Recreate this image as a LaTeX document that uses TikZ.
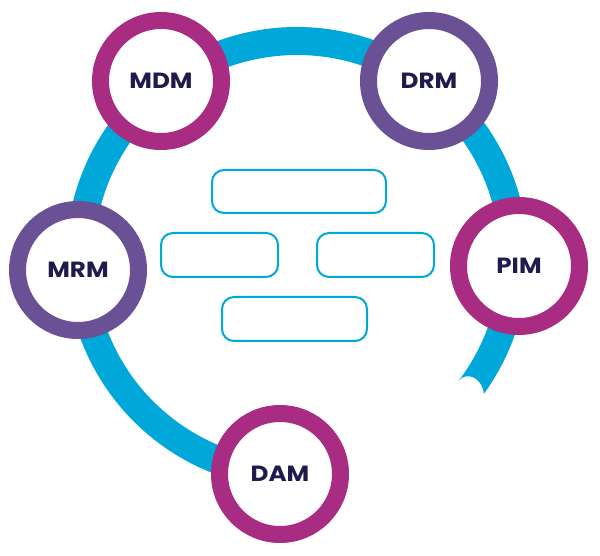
\documentclass[tikz,border=0pt]{standalone}
\usepackage{fontspec}
\newfontfamily\labelfont{Poppins}[FakeStretch=1.12]
\usetikzlibrary{positioning,calc}
\definecolor{bandcyan}{HTML}{00A8DA}
\definecolor{ringmagenta}{HTML}{A82D82}
\definecolor{ringpurple}{HTML}{6A5094}
\definecolor{labelnavy}{HTML}{1E1B4D}

\begin{document}
\begin{tikzpicture}[x=1pt,y=1pt,
  ring/.style={circle,draw=#1,line width=17pt,fill=white,inner sep=0pt,minimum size=121pt,
    text=labelnavy,font=\labelfont\bfseries\fontsize{22}{22}\selectfont},
  slot/.style={draw=bandcyan,line width=2pt,rounded corners=12pt,minimum height=43pt}]
\useasboundingbox (0,0) rectangle (600,555);
\coordinate (c) at (297,297);
% band round the modules
\fill[bandcyan] ($(c)+(265:231)$) arc[start angle=265,end angle=-36,radius=231]
  .. controls (482,178) and (466,184) .. ($(c)+(-37.3:203)$)
  arc[start angle=-37.3,end angle=265,radius=203] -- cycle;
\node[ring=ringmagenta] (mdm) at (161,474) {MDM};
\node[ring=ringpurple] (drm) at (429,474) {DRM};
\node[ring=ringmagenta] (pim) at (519,289) {PIM};
\node[ring=ringpurple] (mrm) at (78,285) {MRM};
\node[ring=ringmagenta] (dam) at (280,81) {DAM};
% empty slots in the middle
\node[slot,minimum width=174pt] (slotA) at (299,363.5) {};
\node[slot,minimum width=117pt,minimum height=44pt] (slotB) at (219.5,300) {};
\node[slot,minimum width=117pt,minimum height=44pt] (slotC) at (375.5,300) {};
\node[slot,minimum width=145pt,minimum height=44pt] (slotD) at (294.5,236) {};
\end{tikzpicture}
\end{document}
